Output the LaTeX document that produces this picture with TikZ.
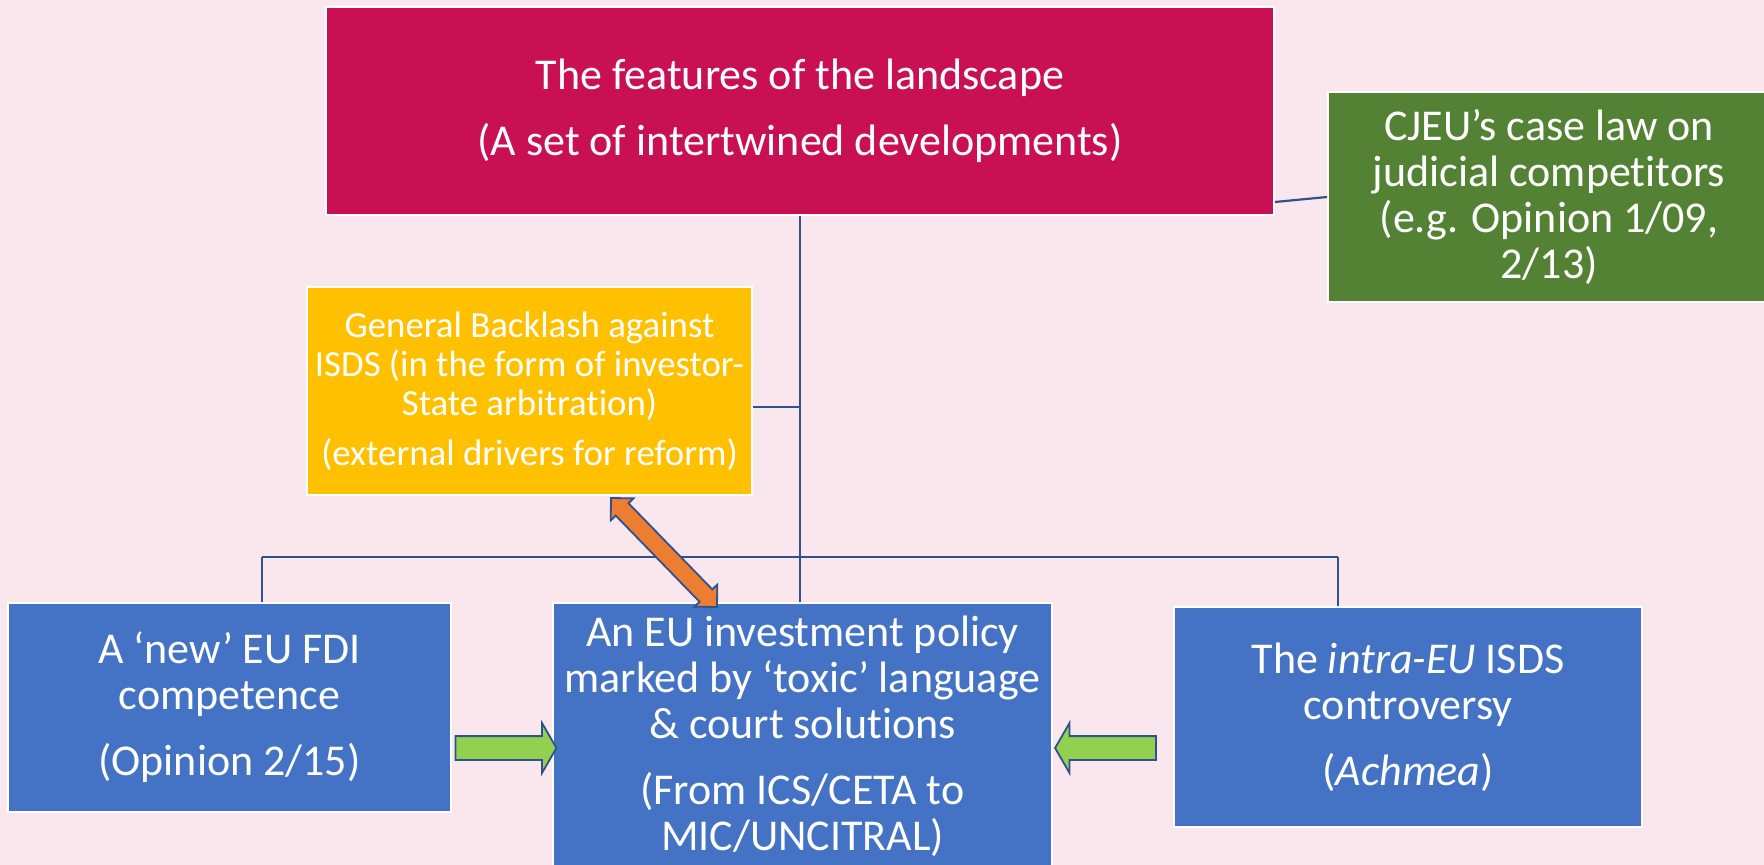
\documentclass[tikz,border=0pt]{standalone}
\usepackage{fontspec}
\setmainfont{Carlito}[Ligatures=NoCommon]
\usetikzlibrary{shapes.arrows}
\definecolor{bgpink}{RGB}{250,231,237}
\definecolor{featred}{RGB}{200,16,82}
\definecolor{cjeugreen}{RGB}{84,130,53}
\definecolor{backyellow}{RGB}{255,192,0}
\definecolor{boxblue}{RGB}{68,114,196}
\definecolor{linkblue}{RGB}{47,82,143}
\definecolor{arrowgreen}{RGB}{146,208,80}
\definecolor{arroworange}{RGB}{237,125,49}

\begin{document}
\begin{tikzpicture}[x=0.5pt,y=-0.5pt,
  box/.style={draw=white,line width=1pt,text=white,align=center,inner sep=0pt,font=\fontsize{22}{23}\selectfont},
  link/.style={draw=linkblue,line width=1.1pt},
  garrow/.style={single arrow,draw=linkblue,fill=arrowgreen,line width=0.9pt,inner xsep=0pt,inner ysep=5.5pt,
    minimum height=50.5pt,minimum width=24pt,single arrow head extend=6.5pt,single arrow tip angle=120},
  oarrow/.style={double arrow,draw=linkblue,fill=arroworange,line width=0.9pt,inner xsep=0pt,inner ysep=4pt,
    minimum height=76pt,minimum width=15pt,double arrow head extend=3.5pt,double arrow tip angle=90}]
% \draw[help lines] (0,0) grid[step=100] (1764,865);
\fill[bgpink] (0,0) rectangle (1764,865);
\useasboundingbox (0,0) rectangle (1764,865);
\node (feat) [box,fill=featred,minimum width=474pt,minimum height=104pt] at (800,111)
  {The features of the landscape\\[10pt](A set of intertwined developments)};
\node (cjeu) [box,fill=cjeugreen,minimum width=221pt,minimum height=105pt] at (1549,197)
  {CJEU’s case law on\\judicial competitors\\(e.g. Opinion 1/09,\\2/13)};
\node (back) [box,fill=backyellow,minimum width=222.5pt,minimum height=104pt,font=\fontsize{18.4}{19.7}\selectfont] at (529.5,391)
  {General Backlash against\\ISDS (in the form of investor-\\State arbitration)\\[5pt](external drivers for reform)};
\node (fdi) [box,fill=boxblue,minimum width=221.5pt,minimum height=104.5pt] at (229.5,707.5)
  {A ‘new’ EU FDI\\competence\\[10pt](Opinion 2/15)};
\node (policy) [box,fill=boxblue,minimum width=249.5pt,minimum height=133pt] at (802.5,736)
  {An EU investment policy\\marked by ‘toxic’ language\\\& court solutions\\[10pt](From ICS/CETA to\\MIC/UNCITRAL)};
\node (intra) [box,fill=boxblue,minimum width=234pt,minimum height=110pt] at (1408,717)
  {The \textit{intra-EU} ISDS\\controversy\\[10pt](\textit{Achmea})};
%
\coordinate (barL) at (262,557);
\coordinate (barR) at (1338,557);
\path[link] (feat.south) edge (feat.south |- policy.north);
\path[link] ([yshift=-8pt]back.east) edge ([yshift=-8pt]back.east -| feat.south);
\path[link] ([yshift=7pt]feat.south east) edge (cjeu.west);
\path[link] (barL) edge (barR);
\path[link] (barL) edge (barL |- fdi.north);
\path[link] (barR) edge (barR |- intra.north);
%
\node (gleft) [garrow] at (502.5,748) {};
\node (gright) [garrow,shape border rotate=180] at (1109,748) {};
\node (orange) [oarrow,rotate=-45.8] at (664,552.5) {};
\end{tikzpicture}
\end{document}
